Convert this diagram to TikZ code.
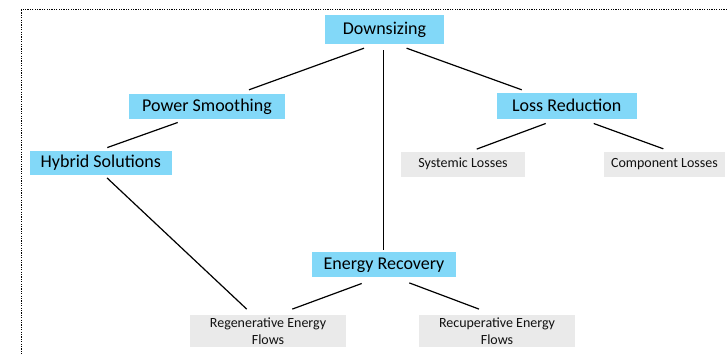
\documentclass[tikz,border=0pt]{standalone}
\usepackage{fontspec}
\setmainfont{Carlito}
\definecolor{topicblue}{HTML}{82D8F8}
\definecolor{leafgray}{HTML}{EAEAEA}
\definecolor{inkdark}{HTML}{111111}
\begin{document}
\begin{tikzpicture}[x=1pt,y=-1pt,
  topic/.style={fill=topicblue, draw=none, inner sep=0pt, align=center,
    font=\fontsize{18}{21}\selectfont, text=black},
  leaf/.style={fill=leafgray, draw=none, inner sep=0pt, align=center,
    font=\fontsize{14}{16.8}\selectfont, text=inkdark},
  link/.style={line width=1.2pt, draw=black},
  frame/.style={line width=1pt, dash pattern=on 1.2pt off 1.2pt, draw=black}
]
\useasboundingbox (0,0) rectangle (727,355);
\clip (0,0) rectangle (727,355);

% outer dotted frame
\draw[frame] (21,10) rectangle (780,420);

% category boxes
\node[topic, minimum width=119pt, minimum height=29pt] (ds) at (384.5,29.5) {Downsizing};
\node[topic, minimum width=156pt, minimum height=25pt] (ps) at (207,106.5) {Power Smoothing};
\node[topic, minimum width=140pt, minimum height=26pt] (lr) at (566.7,105.7) {Loss Reduction};
\node[topic, minimum width=141.5pt, minimum height=24.5pt] (hy) at (100.8,163) {Hybrid Solutions};
\node[topic, minimum width=144pt, minimum height=25pt] (er) at (384,264.8) {Energy Recovery};

% leaf boxes
\node[leaf, minimum width=124pt, minimum height=25pt] (sy) at (463,164.2) {Systemic Losses};
\node[leaf, minimum width=121pt, minimum height=24.5pt] (co) at (664.5,164.5) {Component Losses};
\node[leaf, minimum width=156pt, minimum height=32pt] (rg) at (268,331) {Regenerative Energy\\Flows};
\node[leaf, minimum width=156pt, minimum height=32pt] (rc) at (497,331) {Recuperative Energy\\Flows};

% connectors
\draw[link] ([shift={(-20.5,4)}]ds.south) -- ([shift={(42,-4)}]ps.north);
\draw[link] ([shift={(22.1,4)}]ds.south) -- ([shift={(-45,-2.7)}]lr.north);
\draw[link] ([shift={(-1.1,6)}]ds.south) -- ([shift={(-0.6,-2.3)}]er.north);
\draw[link] ([shift={(-29.3,3.3)}]ps.south) -- ([shift={(6.5,-3)}]hy.north);
\draw[link] ([shift={(-21,4.6)}]lr.south) -- ([shift={(13.7,-2.4)}]sy.north);
\draw[link] ([shift={(27,4.6)}]lr.south) -- ([shift={(-1.2,-3.25)}]co.north);
\draw[link] ([shift={(6.2,2.45)}]hy.south) -- ([shift={(-21.3,-5.7)}]rg.north);
\draw[link] ([shift={(-22.3,6)}]er.south) -- ([shift={(24.3,-5.7)}]rg.north);
\draw[link] ([shift={(25.3,5.4)}]er.south) -- ([shift={(-18,-5.7)}]rc.north);
\end{tikzpicture}
\end{document}
